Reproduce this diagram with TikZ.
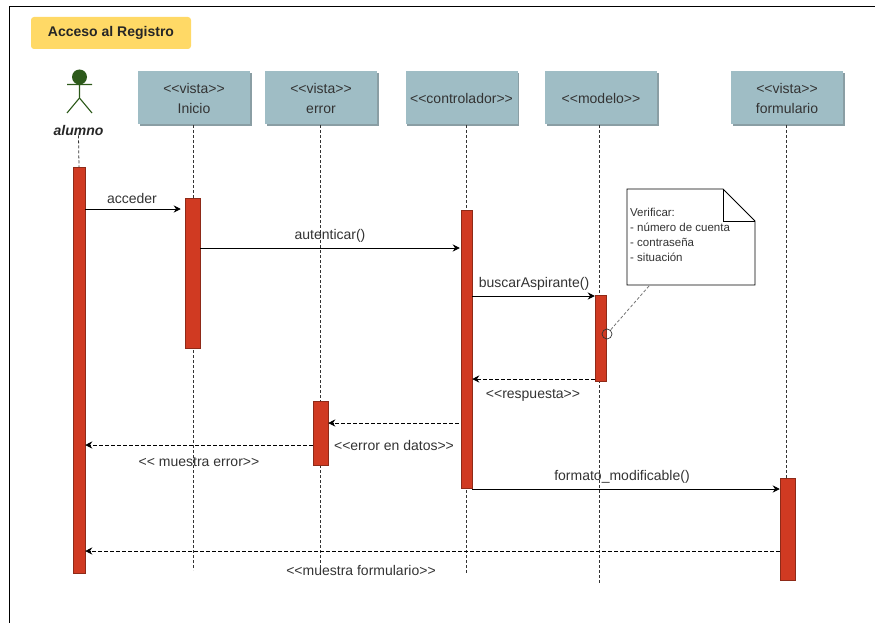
\documentclass[tikz,border=0pt]{standalone}
\usepackage{fontspec}
\setmainfont{Liberation Sans}
\usetikzlibrary{arrows.meta,calc}
\definecolor{boxblue}{HTML}{9FBDC5}
\definecolor{boxshadow}{HTML}{8A9EA4}
\definecolor{barred}{HTML}{D03A22}
\definecolor{barline}{HTML}{8E2A18}
\definecolor{titley}{HTML}{FFD966}
\definecolor{actorg}{HTML}{2D5A1B}
\definecolor{txt}{HTML}{333333}
\tikzset{
  x=1pt,y=-1pt,
  lifebox/.style={fill=boxblue,minimum width=112pt,minimum height=53pt,inner sep=0pt,align=center,text=txt,font=\fontsize{14}{20}\selectfont,
    drop shadow={shadow xshift=1.5pt,shadow yshift=-1.5pt,fill=boxshadow,opacity=1}},
  lifeline/.style={densely dashed,line width=.8pt,black!80},
  activation/.style={fill=barred,draw=barline,line width=.5pt,inner sep=0pt},
  msg/.style={line width=.8pt,-{Stealth[length=7pt,width=7pt]}},
  ret/.style={msg,dash pattern=on 3.5pt off 2.5pt},
  lbl/.style={font=\fontsize{14}{16}\selectfont,text=txt,inner sep=0pt},
  notetxt/.style={font=\fontsize{11.5}{15}\selectfont,text=txt,align=left,inner sep=0pt},
}
\usetikzlibrary{shadows}
\newcommand{\barnode}[5]{\node[activation,minimum width=#3pt,minimum height=#5pt-#4pt,anchor=north] (#1) at (#2,#4) {};}
\begin{document}
\begin{tikzpicture}
\useasboundingbox (0,0) rectangle (875,623);
% frame
\coordinate (fa) at (875,6.5);
\coordinate (fb) at (9.5,6.5);
\coordinate (fc) at (9.5,623);
\draw[line width=.9pt] (fa) -- (fb) -- (fc);
% title
\node[fill=titley,rounded corners=3pt,minimum width=160pt,minimum height=32pt,inner sep=0pt,font=\bfseries\fontsize{14}{16}\selectfont,text=black!85] (title) at (111,33) {Acceso al Registro};
% headers
\node[lifebox] (hi) at (194,98) {<{}<vista>{}>\\Inicio};
\node[lifebox] (he) at (321,98) {<{}<vista>{}>\\error};
\node[lifebox] (hc) at (461.5,98) {<{}<controlador>{}>};
\node[lifebox] (hm) at (601,98) {<{}<modelo>{}>};
\node[lifebox] (hf) at (787,98) {<{}<vista>{}>\\formulario};
% actor
\node[circle,fill=actorg,minimum size=15pt,inner sep=0pt] (head) at (79.5,77) {};
\coordinate (neck) at (79.5,84);
\coordinate (hip) at (79.5,98);
\coordinate (arml) at (67,84.5);
\coordinate (armr) at (92,84.5);
\coordinate (legl) at (67,113);
\coordinate (legr) at (92,113);
\draw[actorg,line width=1.1pt] (head) -- (hip) (arml) -- (armr) (legl) -- (hip) -- (legr);
\node[font=\bfseries\itshape\fontsize{14}{16}\selectfont,text=black!85,inner sep=0pt] (alumno) at (78.5,130) {alumno};
% lifeline ends
\coordinate (ea) at (79,167);
\coordinate (ei) at (193,570);
\coordinate (ee) at (320,570);
\coordinate (ec) at (466,573);
\coordinate (em) at (599,583);
\coordinate (ef) at (786,478);
\draw[lifeline] (alumno.south) -- (ea);
\draw[lifeline] (193,125) -- (ei);
\draw[lifeline] (320,125) -- (ee);
\draw[lifeline] (466,125) -- (ec);
\draw[lifeline] (599,125) -- (em);
\draw[lifeline] (786,125) -- (ef);
% activations
\barnode{ba}{79}{12}{167}{573}
\barnode{bi}{192.5}{15}{198}{348}
\barnode{bc}{466.5}{11}{210}{488}
\barnode{bm}{600.5}{11}{295}{381}
\barnode{be}{320.5}{15}{401}{465}
\barnode{bf}{787.5}{15}{478}{580}
% messages
\coordinate (y1) at (0,209);
\coordinate (y2) at (0,248);
\coordinate (y3) at (0,296);
\coordinate (y4) at (0,379);
\coordinate (y5) at (0,423);
\coordinate (y6) at (0,445);
\coordinate (y7) at (0,489);
\coordinate (y8) at (0,551);
\draw[msg,shorten >=4pt] (ba.east|-y1) -- (bi.west|-y1);
\draw[msg,shorten >=1pt] (bi.east|-y2) -- (bc.west|-y2);
\draw[msg,shorten >=0pt] (bc.east|-y3) -- (bm.west|-y3);
\draw[ret] (bm.west|-y4) -- (bc.east|-y4);
\draw[ret,shorten <=2pt] (bc.west|-y5) -- (be.east|-y5);
\draw[ret] (be.west|-y6) -- (ba.east|-y6);
\draw[msg] (bc.east|-y7) -- (bf.west|-y7);
\draw[ret] (bf.west|-y8) -- (ba.east|-y8);
% labels
\node[lbl] (l1) at (132,198) {acceder};
\node[lbl] (l2) at (330,236) {autenticar()};
\node[lbl] (l3) at (534,284) {buscarAspirante()};
\node[lbl] (l4) at (533,395) {<{}<respuesta>{}>};
\node[lbl] (l5) at (394,445) {<{}<error en datos>{}>};
\node[lbl] (l6) at (199,462) {<{}< muestra error>{}>};
\node[lbl] (l7) at (622,477) {formato\_modificable()};
\node[lbl] (l8) at (361,570) {<{}<muestra formulario>{}>};
% note
\coordinate (n1) at (627,189);
\coordinate (n2) at (723,189);
\coordinate (n3) at (755,221);
\coordinate (n4) at (755,285);
\coordinate (n5) at (627,285);
\coordinate (n6) at (723,221);
\draw[fill=white,line width=.8pt] (n1) -- (n2) -- (n3) -- (n4) -- (n5) -- cycle;
\draw[line width=.8pt] (n2) -- (n6) -- (n3);
\node[notetxt,anchor=north west] (notetext) at (630,207.5) {Verificar:\\- número de cuenta\\- contraseña\\- situación};
\node[circle,draw=black!80,line width=.7pt,minimum size=10pt,inner sep=0pt] (anch) at (607,334) {};
\coordinate (nb) at (649,286);
\draw[black!55,densely dashed,line width=.8pt] (nb) -- (anch);
\end{tikzpicture}
\end{document}
